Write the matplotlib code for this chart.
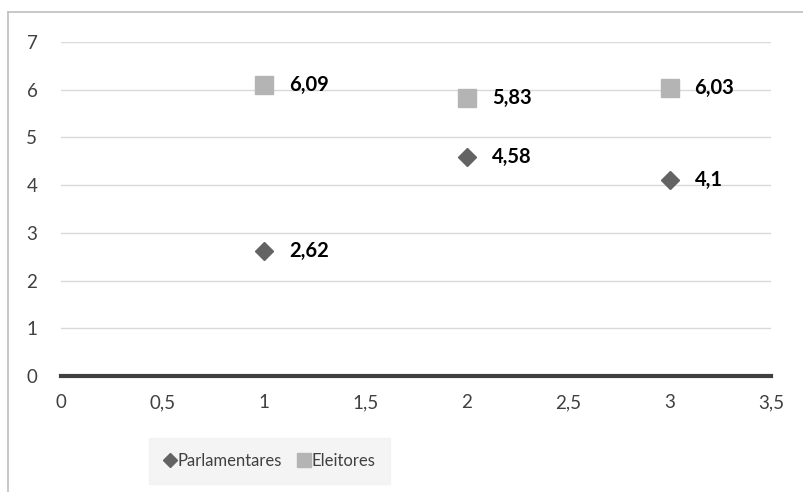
import matplotlib
matplotlib.use("Agg")
import matplotlib.pyplot as plt
from matplotlib.lines import Line2D

plt.rcParams['font.family'] = ['Lato', 'DejaVu Sans']

x_vals = [1, 2, 3]
parlamentares = [2.62, 4.58, 4.1]
eleitores = [6.09, 5.83, 6.03]
x_ticks = [0, 0.5, 1, 1.5, 2, 2.5, 3, 3.5]
y_ticks = [0, 1, 2, 3, 4, 5, 6, 7]


def fmt(v):
    s = f"{v:g}"
    return s.replace(".", ",")


fig = plt.figure(figsize=(8.04, 4.92), dpi=100)
ax = fig.add_axes([61 / 804, 1 - 376 / 492, 710 / 804, 334 / 492])

# outer frame (only top and left edges visible)
fig.add_artist(Line2D([8 / 804, 1.0], [1 - 12 / 492, 1 - 12 / 492],
                      transform=fig.transFigure, color="#bfbfbf", lw=1.2))
fig.add_artist(Line2D([8 / 804, 8 / 804], [0, 1 - 12 / 492],
                      transform=fig.transFigure, color="#bfbfbf", lw=1.2))

ax.set_xlim(0, 3.5)
ax.set_ylim(0, 7)
ax.set_xticks(x_ticks)
ax.set_yticks(y_ticks)
ax.set_xticklabels([fmt(t) for t in x_ticks])
ax.set_yticklabels([fmt(t) for t in y_ticks])
ax.tick_params(length=0, labelsize=13.5, labelcolor="#404040")
ax.tick_params(axis="x", pad=13)
ax.tick_params(axis="y", pad=17)
for sp in ax.spines.values():
    sp.set_visible(False)
ax.yaxis.grid(True, color="#d9d9d9", lw=1)
ax.set_axisbelow(True)
ax.axhline(0, color="#404040", lw=3, clip_on=False, zorder=2)

ax.plot(x_vals, parlamentares, ls="none", marker="D", ms=9.5,
        color="#636363", label="Parlamentares", zorder=3, clip_on=False)
ax.plot(x_vals, eleitores, ls="none", marker="s", ms=13.5,
        color="#b4b4b4", label="Eleitores", zorder=3, clip_on=False)

for xv, yv in zip(x_vals, parlamentares):
    ax.annotate(fmt(yv), (xv, yv), xytext=(18, 0), textcoords="offset points",
                ha="left", va="center", fontsize=14.5, fontweight="bold", color="black")
for xv, yv in zip(x_vals, eleitores):
    ax.annotate(fmt(yv), (xv, yv), xytext=(18, 0), textcoords="offset points",
                ha="left", va="center", fontsize=14.5, fontweight="bold", color="black")

leg = fig.legend(loc="center", bbox_to_anchor=(0.335, 1 - 461 / 492), ncol=2,
                 frameon=True, fontsize=12, handletextpad=0.05, columnspacing=0.9,
                 handlelength=0.8, borderpad=0.9, fancybox=False, markerscale=0.7)
leg.get_frame().set_facecolor("#f2f2f2")
leg.get_frame().set_edgecolor("#f2f2f2")
for t in leg.get_texts():
    t.set_color("#404040")

fig.savefig("out.png", dpi=100)
